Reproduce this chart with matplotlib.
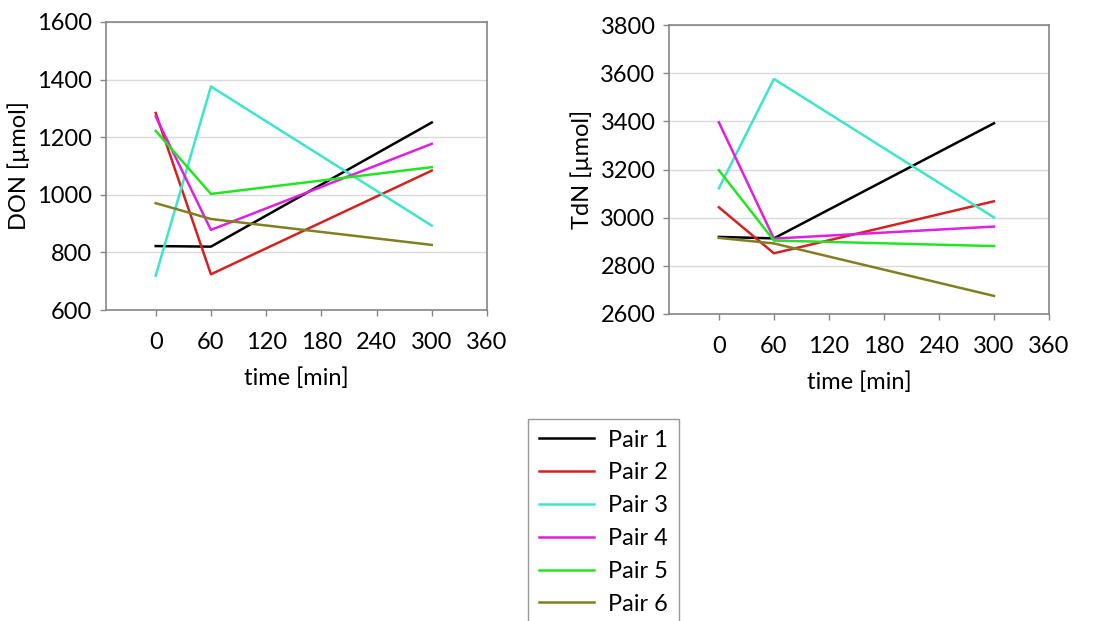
import matplotlib
matplotlib.use("Agg")
import matplotlib.pyplot as plt

plt.rcParams['font.family'] = ['Lato', 'DejaVu Sans']
plt.rcParams['font.size'] = 17

# sampling times [min]
time = [0, 60, 300]

pairs = ["Pair 1", "Pair 2", "Pair 3", "Pair 4", "Pair 5", "Pair 6"]
colors = ["#000000", "#d42222", "#3ee6c8", "#e020e0", "#22e622", "#808020"]

# dissolved organic nitrogen [µmol]
don_p1 = [822, 820, 1251]
don_p2 = [1284, 724, 1084]
don_p3 = [719, 1376, 893]
don_p4 = [1272, 878, 1177]
don_p5 = [1222, 1003, 1096]
don_p6 = [971, 916, 826]

# total dissolved nitrogen [µmol]
tdn_p1 = [2920, 2914, 3392]
tdn_p2 = [3043, 2852, 3068]
tdn_p3 = [3122, 3576, 3001]
tdn_p4 = [3396, 2913, 2963]
tdn_p5 = [3197, 2905, 2882]
tdn_p6 = [2916, 2893, 2675]

don = [don_p1, don_p2, don_p3, don_p4, don_p5, don_p6]
tdn = [tdn_p1, tdn_p2, tdn_p3, tdn_p4, tdn_p5, tdn_p6]

fig = plt.figure(figsize=(11.02, 6.21), dpi=100)
ax1 = fig.add_axes([0.0962, 0.5008, 0.3457, 0.4638])
ax2 = fig.add_axes([0.6074, 0.4944, 0.3445, 0.4653])


def style(ax, ylim, ylabel):
    ax.set_xlim(-54, 360)
    ax.set_ylim(*ylim)
    ax.set_xticks(range(0, 361, 60))
    ax.set_yticks(range(ylim[0], ylim[1] + 1, 200))
    ax.yaxis.grid(True, color="#d9d9d9", lw=1)
    ax.set_axisbelow(True)
    for s in ax.spines.values():
        s.set_color("#868686")
        s.set_linewidth(1.2)
    ax.tick_params(axis="x", direction="out", length=4, width=1,
                   color="#868686", pad=12)
    ax.tick_params(axis="y", direction="out", length=4, width=1,
                   color="#868686", pad=6)
    ax.set_xlabel("time [min]", labelpad=10)
    ax.set_ylabel(ylabel, labelpad=5)


for series, c, name in zip(don, colors, pairs):
    ax1.plot(time, series, color=c, lw=1.8, label=name)
for series, c in zip(tdn, colors):
    ax2.plot(time, series, color=c, lw=1.8)

style(ax1, (600, 1600), "DON [µmol]")
style(ax2, (2600, 3800), "TdN [µmol]")

leg = fig.legend(loc="upper left", bbox_to_anchor=(528 / 1102, 1 - 419 / 621),
                 borderaxespad=0, fancybox=False, handlelength=2.35,
                 handletextpad=0.6, borderpad=0.45, labelspacing=0.5,
                 fontsize=17)
leg.get_frame().set_edgecolor("#808080")
leg.get_frame().set_linewidth(1)

fig.savefig("out.png", dpi=100)
